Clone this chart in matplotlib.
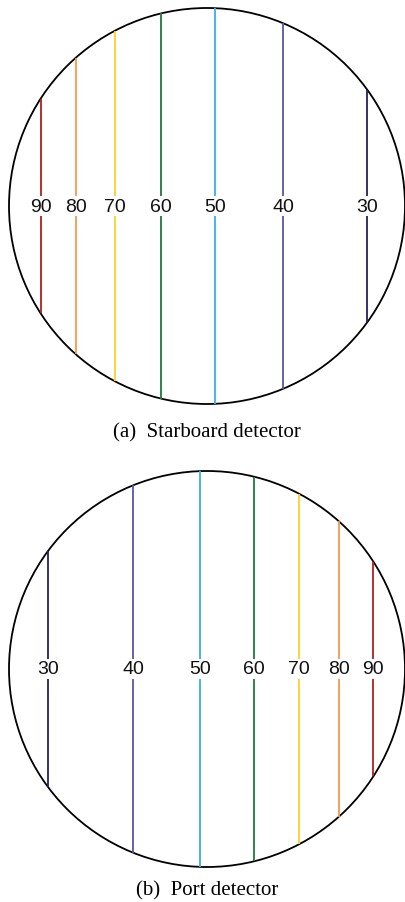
import numpy as np
import matplotlib.pyplot as plt
from matplotlib.patches import Circle

# angle labels and where each chord sits across the detector (fraction of radius)
starboard_angles = [90, 80, 70, 60, 50, 40, 30]
starboard_pos = [-0.840, -0.662, -0.463, -0.231, 0.042, 0.384, 0.810]

port_angles = [30, 40, 50, 60, 70, 80, 90]
port_pos = [-0.804, -0.372, -0.037, 0.237, 0.463, 0.665, 0.840]

angle_colors = {
    90: '#b0201e',
    80: '#f59a4a',
    70: '#fdd02a',
    60: '#1f7a3a',
    50: '#3aaee6',
    40: '#5558a8',
    30: '#22225a',
}

captions = ['(a)  Starboard detector', '(b)  Port detector']

W, H = 406, 903
fig = plt.figure(figsize=(W / 100, H / 100), dpi=100)


def draw_detector(ax, angles, pos):
    ax.add_patch(Circle((0, 0), 1.0, facecolor='none', edgecolor='black',
                        linewidth=1.3, clip_on=False))
    for a, x in zip(angles, pos):
        h = np.sqrt(1 - x ** 2)
        ax.plot([x, x], [-h, h], color=angle_colors[a], linewidth=1.3,
                solid_capstyle='butt', clip_on=False)
        ax.text(x, 0.0, str(a), ha='center', va='center', fontsize=14,
                family='Liberation Sans', color='#111111',
                bbox=dict(facecolor='white', edgecolor='none', pad=1.0))
    ax.set_xlim(-1, 1)
    ax.set_ylim(-1, 1)
    ax.set_aspect('equal')
    ax.axis('off')


# circle centre (px) and radius
r = 198
for (cx, cy), angles, pos, cap, cap_y in [
        ((207, 207), starboard_angles, starboard_pos, captions[0], 433),
        ((207, 670), port_angles, port_pos, captions[1], 891)]:
    ax = fig.add_axes([(cx - r) / W, (H - cy - r) / H, 2 * r / W, 2 * r / H])
    draw_detector(ax, angles, pos)
    fig.text(cx / W, 1 - cap_y / H, cap, ha='center', va='center',
             fontsize=15, family='Liberation Serif')

fig.savefig('out.png', dpi=100, facecolor='white')
